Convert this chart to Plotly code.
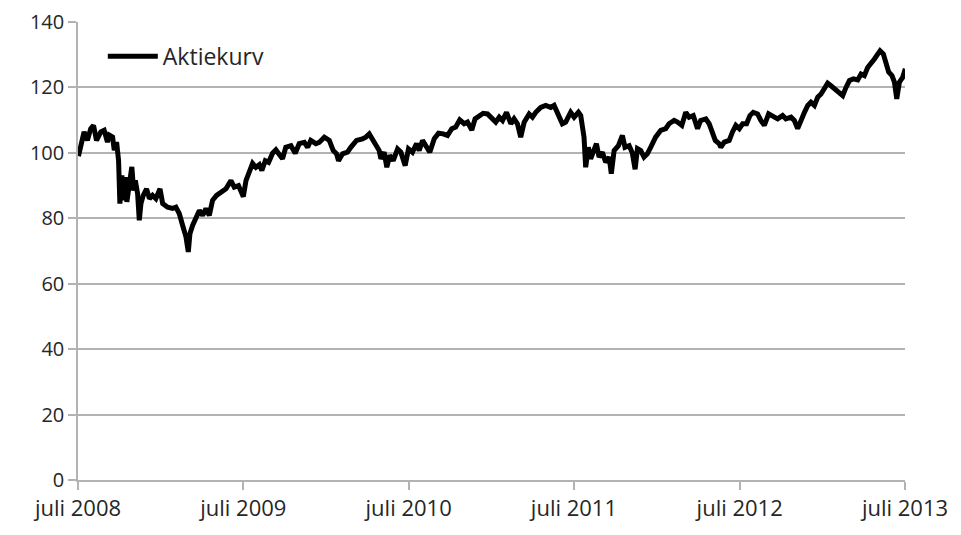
import plotly.graph_objects as go
from datetime import datetime, timedelta

# Time as decimal years, share price index values
years = [
    2008.500, 2008.514, 2008.534, 2008.554, 2008.574, 2008.591, 2008.609, 2008.635, 2008.655, 2008.675,
    2008.686, 2008.706, 2008.716, 2008.730, 2008.742, 2008.750, 2008.762, 2008.770, 2008.782, 2008.792,
    2008.802, 2008.822, 2008.833, 2008.843, 2008.857, 2008.867, 2008.877, 2008.891, 2008.911, 2008.928,
    2008.947, 2008.967, 2008.992, 2009.008, 2009.038, 2009.068, 2009.088, 2009.109, 2009.129, 2009.149,
    2009.163, 2009.173, 2009.189, 2009.209, 2009.230, 2009.250, 2009.270, 2009.290, 2009.310, 2009.334,
    2009.371, 2009.391, 2009.421, 2009.441, 2009.467, 2009.496, 2009.512, 2009.536, 2009.552, 2009.572,
    2009.593, 2009.608, 2009.629, 2009.649, 2009.673, 2009.693, 2009.713, 2009.733, 2009.753, 2009.784,
    2009.810, 2009.834, 2009.865, 2009.885, 2009.904, 2009.935, 2009.955, 2009.986, 2010.016, 2010.040,
    2010.060, 2010.072, 2010.096, 2010.126, 2010.146, 2010.181, 2010.217, 2010.237, 2010.258, 2010.278,
    2010.297, 2010.318, 2010.328, 2010.348, 2010.364, 2010.382, 2010.403, 2010.429, 2010.449, 2010.475,
    2010.495, 2010.519, 2010.544, 2010.560, 2010.580, 2010.604, 2010.624, 2010.651, 2010.677, 2010.705,
    2010.731, 2010.757, 2010.781, 2010.805, 2010.832, 2010.852, 2010.878, 2010.898, 2010.923, 2010.947,
    2010.973, 2010.993, 2011.023, 2011.044, 2011.064, 2011.088, 2011.114, 2011.134, 2011.154, 2011.174,
    2011.195, 2011.225, 2011.245, 2011.265, 2011.295, 2011.325, 2011.356, 2011.376, 2011.396, 2011.426,
    2011.446, 2011.476, 2011.497, 2011.523, 2011.537, 2011.557, 2011.567, 2011.583, 2011.597, 2011.618,
    2011.632, 2011.648, 2011.668, 2011.688, 2011.709, 2011.722, 2011.739, 2011.765, 2011.789, 2011.805,
    2011.830, 2011.849, 2011.866, 2011.880, 2011.900, 2011.920, 2011.940, 2011.960, 2011.990, 2012.021,
    2012.051, 2012.071, 2012.102, 2012.122, 2012.148, 2012.172, 2012.192, 2012.217, 2012.243, 2012.262,
    2012.293, 2012.313, 2012.333, 2012.350, 2012.374, 2012.383, 2012.404, 2012.434, 2012.454, 2012.474,
    2012.495, 2012.515, 2012.539, 2012.559, 2012.579, 2012.605, 2012.625, 2012.646, 2012.672, 2012.696,
    2012.726, 2012.756, 2012.776, 2012.807, 2012.827, 2012.847, 2012.867, 2012.888, 2012.908, 2012.927,
    2012.948, 2012.968, 2012.988, 2013.008, 2013.028, 2013.048, 2013.069, 2013.095, 2013.119, 2013.139,
    2013.160, 2013.184, 2013.210, 2013.230, 2013.250, 2013.270, 2013.290, 2013.311, 2013.331, 2013.345,
    2013.365, 2013.381, 2013.397, 2013.417, 2013.432, 2013.446, 2013.462, 2013.482, 2013.498,
]

kurs = [
    99.0, 102.8, 106.4, 103.8, 107.4, 108.4, 103.8, 106.4, 106.9, 103.3,
    105.4, 104.8, 100.8, 103.3, 97.7, 84.5, 93.1, 85.5, 92.6, 85.0,
    89.5, 95.7, 88.5, 91.6, 87.5, 79.4, 84.5, 87.0, 89.0, 86.0,
    87.0, 86.0, 89.0, 84.5, 83.4, 83.0, 83.4, 81.4, 77.8, 74.3,
    69.7, 75.3, 77.8, 79.9, 82.4, 80.9, 83.0, 80.9, 85.5, 87.0,
    88.5, 89.0, 91.5, 89.5, 90.0, 86.6, 91.5, 94.6, 96.8, 95.6,
    96.4, 94.6, 97.6, 97.1, 99.9, 100.9, 99.2, 98.2, 101.7, 102.2,
    99.9, 102.8, 103.2, 101.7, 103.8, 102.8, 103.2, 104.8, 103.8, 100.7,
    99.7, 97.6, 99.7, 100.2, 101.7, 103.8, 104.3, 104.8, 105.8, 104.3,
    102.2, 100.7, 98.2, 100.2, 95.6, 99.2, 97.6, 101.2, 100.2, 96.1,
    101.2, 100.2, 102.8, 100.7, 103.8, 101.7, 100.2, 104.3, 106.0, 105.8,
    105.3, 107.4, 107.9, 110.1, 108.9, 109.4, 107.0, 110.4, 111.4, 112.1,
    111.9, 110.9, 109.4, 110.9, 109.9, 112.4, 108.9, 110.4, 108.9, 104.8,
    109.4, 111.9, 110.9, 112.4, 113.9, 114.5, 113.9, 114.5, 111.9, 108.9,
    109.4, 112.4, 110.9, 112.4, 111.4, 104.8, 95.6, 101.7, 98.2, 100.7,
    102.8, 98.7, 100.2, 97.1, 98.7, 93.6, 100.7, 102.2, 105.3, 101.7,
    102.2, 100.0, 95.0, 101.3, 100.7, 98.7, 99.7, 101.7, 104.8, 106.9,
    107.4, 108.9, 109.9, 109.4, 108.4, 112.4, 110.9, 111.4, 107.4, 109.9,
    110.4, 108.9, 106.4, 103.8, 102.8, 101.7, 103.3, 103.8, 106.4, 108.4,
    107.4, 108.9, 108.9, 111.4, 112.4, 111.9, 109.9, 108.4, 111.9, 111.4,
    110.4, 111.4, 110.4, 110.9, 109.9, 107.4, 110.4, 112.4, 114.5, 115.5,
    114.5, 117.0, 118.0, 120.0, 121.3, 120.5, 119.5, 118.5, 117.5, 120.0,
    122.1, 122.6, 122.3, 124.1, 123.6, 126.1, 127.2, 128.7, 130.2, 131.2,
    130.2, 127.2, 124.7, 123.6, 121.6, 116.5, 121.6, 123.1, 125.7,
]

tick_dates = ["2008-07-01", "2009-07-01", "2010-07-01", "2011-07-01", "2012-07-01", "2013-07-01"]
tick_labels = ["juli 2008", "juli 2009", "juli 2010", "juli 2011", "juli 2012", "juli 2013"]
y_ticks = [0, 20, 40, 60, 80, 100, 120, 140]


def to_date(t):
    y = int(t)
    start = datetime(y, 1, 1)
    length = (datetime(y + 1, 1, 1) - start).total_seconds()
    return start + timedelta(seconds=(t - y) * length)


dates = [to_date(t) for t in years]

fig = go.Figure()
fig.add_trace(go.Scatter(
    x=dates, y=kurs, mode="lines", name="Aktiekurv",
    line=dict(color="black", width=5),
))

font_family = "'Open Sans', Lato, sans-serif"
grid_col = "#b3b3b3"

fig.update_layout(
    width=961, height=535,
    margin=dict(l=70, r=64, t=14, b=63),
    paper_bgcolor="white", plot_bgcolor="white",
    font=dict(family=font_family, size=22, color="#262626"),
    showlegend=True,
    legend=dict(
        x=0.03, y=0.972, xanchor="left", yanchor="top",
        bgcolor="rgba(0,0,0,0)", font=dict(size=23),
        itemwidth=50,
    ),
    xaxis=dict(
        type="date", automargin=False, ticklabeloverflow="allow",
        range=["2008-07-01", "2013-07-01"],
        tickmode="array", tickvals=tick_dates, ticktext=tick_labels,
        showgrid=False, showline=True, linecolor=grid_col, linewidth=1.5,
        ticks="outside", ticklen=8, tickcolor=grid_col, tickwidth=1.5,
        zeroline=False,
    ),
    yaxis=dict(
        range=[0, 140], tickmode="array", tickvals=y_ticks, automargin=False,
        ticklabeloverflow="allow", tickfont=dict(size=20),
        showgrid=True, gridcolor=grid_col, gridwidth=1.5,
        showline=True, linecolor=grid_col, linewidth=1.5,
        ticks="outside", ticklen=8, tickcolor=grid_col, tickwidth=1.5,
        zeroline=False,
    ),
)

fig.write_html("out.html")
